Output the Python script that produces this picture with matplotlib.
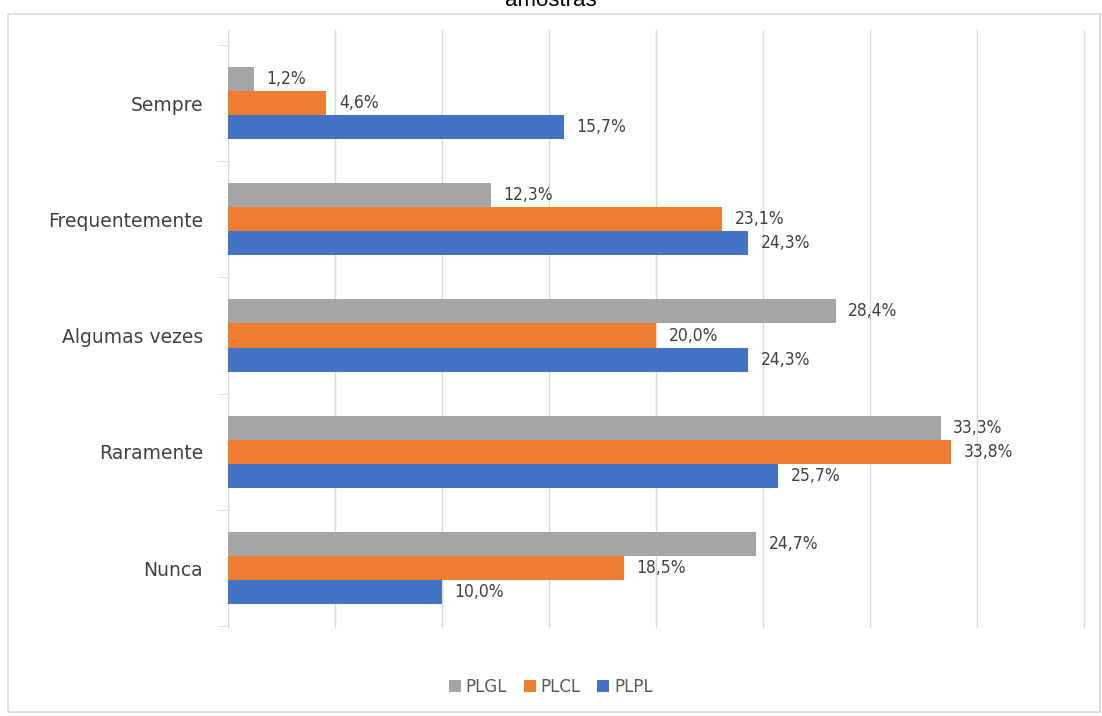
import matplotlib.pyplot as plt
import matplotlib.patches as patches
import numpy as np

# dados
categorias = ['Sempre', 'Frequentemente', 'Algumas vezes', 'Raramente', 'Nunca']
series = ['PLGL', 'PLCL', 'PLPL']
plgl = [1.2, 12.3, 28.4, 33.3, 24.7]
plcl = [4.6, 23.1, 20.0, 33.8, 18.5]
plpl = [15.7, 24.3, 24.3, 25.7, 10.0]
cores = ['#A5A5A5', '#ED7D31', '#4472C4']

fig = plt.figure(figsize=(11.02, 7.16), dpi=100)
ax = fig.add_axes([228/1102, 1 - 628/716, (1086 - 228)/1102, (628 - 30)/716])

# moldura do grafico
fig.patches.append(patches.Rectangle((8/1102, 4/716), 1092/1102, 698/716, transform=fig.transFigure,
                                     fill=False, edgecolor='#D9D9D9', linewidth=1.2))

y = np.arange(len(categorias))
h = 0.207
for k, (vals, nome, cor) in enumerate(zip([plgl, plcl, plpl], series, cores)):
    pos = y + (k - 1) * h
    ax.barh(pos, vals, height=h, color=cor, label=nome, zorder=3)
    for p, v in zip(pos, vals):
        ax.annotate(f'{v:.1f}%'.replace('.', ','), (v, p), xytext=(9, 0), textcoords='offset points',
                    va='center', ha='left', fontsize=12.5, color='#404040', fontstretch='condensed')

ax.set_xlim(0, 40.1)
ax.set_ylim(4.516, -0.628)
ax.set_xticks(np.arange(0, 41, 5))
ax.set_xticklabels([])
ax.tick_params(axis='x', length=0)
ax.grid(axis='x', color='#D9D9D9', linewidth=1, zorder=0)
ax.set_yticks(y)
ax.set_yticklabels(categorias, fontsize=13.5, color='#404040')
ax.tick_params(axis='y', length=0, pad=18)
ax.set_yticks(np.arange(-0.5, 5, 1), minor=True)
ax.tick_params(axis='y', which='minor', length=7, color='#D9D9D9')
for s in ['top', 'right', 'bottom']:
    ax.spines[s].set_visible(False)
ax.spines['left'].set_color('#D9D9D9')

fig.legend(loc='center', bbox_to_anchor=(551/1102, 1 - 687/716), ncol=3, frameon=False,
           fontsize=12, handlelength=0.7, handleheight=0.7, handletextpad=0.3, columnspacing=1.0,
           labelcolor='#595959')

# titulo cortado no topo, como na imagem original
fig.text(0.5, 0.999, 'amostras', ha='center', va='center', fontsize=16, family='Liberation Sans')

fig.savefig('out.png', dpi=100)
